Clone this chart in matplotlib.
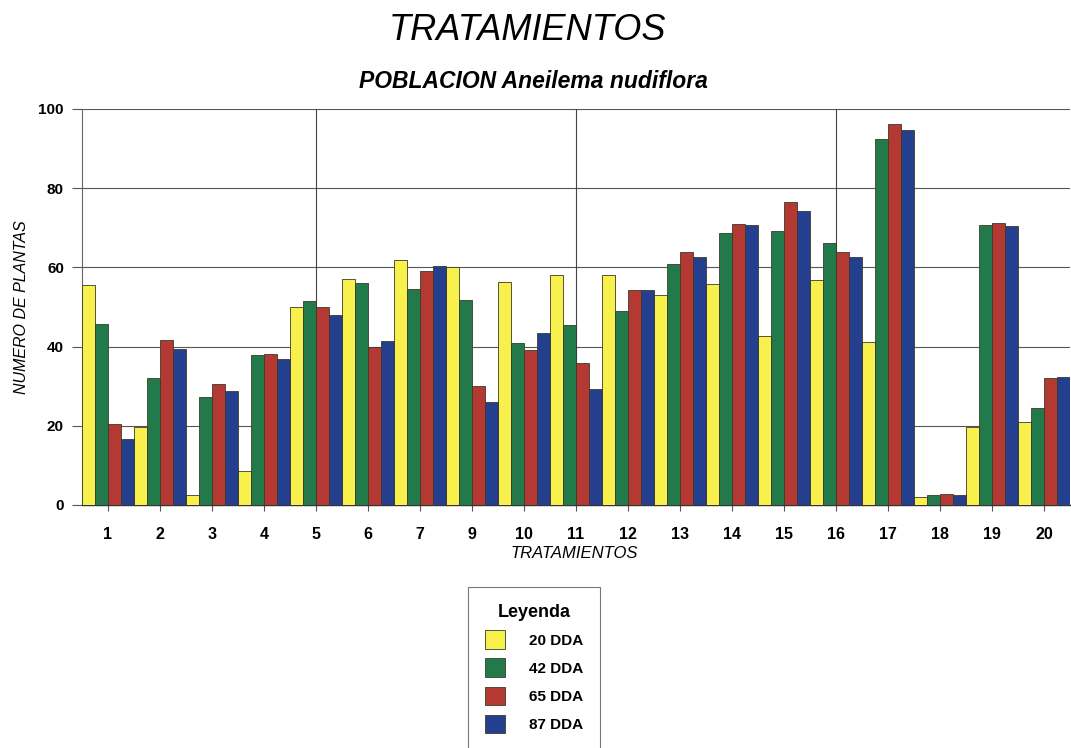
import matplotlib
matplotlib.use("Agg")
import matplotlib.pyplot as plt
import numpy as np

plt.rcParams['font.family'] = ['Liberation Sans', 'DejaVu Sans']

# Treatment labels (there is no treatment 8)
tratamientos = ["1", "2", "3", "4", "5", "6", "7", "9", "10", "11",
                "12", "13", "14", "15", "16", "17", "18", "19", "20"]

dda_20 = [55.6, 19.8, 2.4, 8.7, 50.0, 57.1, 61.8, 60.1, 56.2, 58.1,
          58.0, 53.1, 55.7, 42.7, 56.8, 41.2, 2.0, 19.8, 20.9]
dda_42 = [45.8, 32.1, 27.3, 37.8, 51.6, 56.0, 54.5, 51.8, 41.0, 45.5,
          49.1, 60.8, 68.7, 69.1, 66.2, 92.3, 2.4, 70.6, 24.6]
dda_65 = [20.4, 41.7, 30.5, 38.1, 50.0, 40.0, 59.1, 30.1, 39.2, 35.9,
          54.3, 63.8, 71.0, 76.6, 63.8, 96.3, 2.9, 71.3, 32.0]
dda_87 = [16.6, 39.4, 28.8, 36.9, 48.0, 41.4, 60.4, 26.0, 43.5, 29.4,
          54.3, 62.6, 70.6, 74.3, 62.6, 94.8, 2.5, 70.4, 32.3]

series = [dda_20, dda_42, dda_65, dda_87]
series_labels = ["20 DDA", "42 DDA", "65 DDA", "87 DDA"]
colors = ["#F8F04C", "#22794A", "#B53933", "#233F8E"]

W, H = 1071, 748
fig = plt.figure(figsize=(W / 100, H / 100), dpi=100)
ax = fig.add_axes([82 / W, 1 - 505 / H, (1070 - 82) / W, (505 - 109) / H])

x = np.arange(len(tratamientos))
bw = 0.25
handles = []
for i, (vals, lab, col) in enumerate(zip(series, series_labels, colors)):
    b = ax.bar(x - 0.5 + bw * (i + 0.5), vals, width=bw, color=col,
               edgecolor="#3a3a2a", linewidth=0.6, label=lab, zorder=3)
    handles.append(b)

ax.set_xlim(-0.5, len(tratamientos) - 0.5)
ax.set_ylim(0, 100)
ax.set_yticks(np.arange(0, 101, 20))
ax.set_xticks(x)
ax.set_xticklabels(tratamientos)

# horizontal grid
for yv in range(20, 101, 20):
    ax.axhline(yv, color="#555555", linewidth=0.8, zorder=1)
# vertical grid every fifth treatment
for xv in [4, 9, 14]:
    ax.axvline(xv, color="#444444", linewidth=0.8, zorder=1)

for s in ["top", "right"]:
    ax.spines[s].set_visible(False)
ax.spines["left"].set_color("#666666")
ax.spines["left"].set_linewidth(0.8)
ax.spines["bottom"].set_color("#333333")
ax.spines["bottom"].set_linewidth(1.0)

ax.tick_params(axis="y", direction="out", length=7, width=0.8, color="#555555",
               pad=6, labelsize=11)
ax.tick_params(axis="x", direction="out", length=4, width=0.8, color="#555555",
               pad=12, labelsize=11.5)
for t in ax.get_yticklabels() + ax.get_xticklabels():
    t.set_fontweight("bold")

fig.text(528 / W, 1 - 31 / H, "TRATAMIENTOS", ha="center", va="center",
         fontsize=26, style="italic")
fig.text(533 / W, 1 - 81 / H, "POBLACION Aneilema nudiflora", ha="center",
         va="center", fontsize=16.5, style="italic", fontweight="bold")
fig.text(22 / W, 1 - 307 / H, "NUMERO DE PLANTAS", ha="center", va="center",
         rotation=90, fontsize=11.5, style="italic")
fig.text(574 / W, 1 - 553 / H, "TRATAMIENTOS", ha="center", va="center",
         fontsize=12, style="italic")

leg = fig.legend(handles=handles, labels=series_labels, title="Leyenda",
                 loc="upper center", bbox_to_anchor=(534 / W, 1 - 587 / H),
                 borderaxespad=0, fontsize=11, title_fontsize=13,
                 handlelength=1.3, handleheight=1.5, handletextpad=1.6,
                 labelspacing=0.62, borderpad=1.1, frameon=True, fancybox=False,
                 edgecolor="#555555")
leg.get_frame().set_linewidth(0.8)
for t in leg.get_texts():
    t.set_fontweight("bold")
leg.get_title().set_fontweight("bold")

fig.savefig("out.png", dpi=100, facecolor="white")
